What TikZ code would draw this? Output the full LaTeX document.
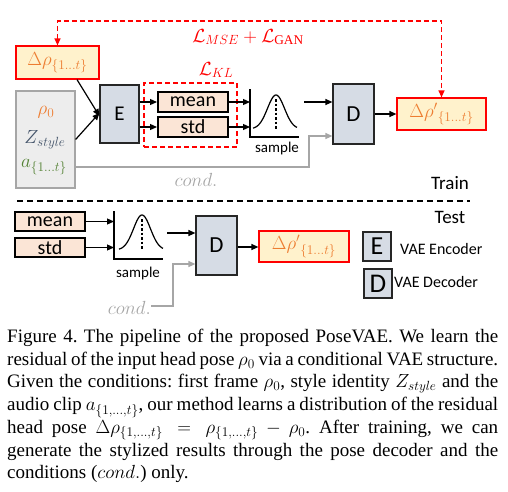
\RequirePackage{fix-cm}
\documentclass[tikz,border=0pt]{standalone}
\usepackage{fontspec}
\setmainfont{Liberation Serif}
\newfontfamily\carl{Carlito}
\usetikzlibrary{arrows.meta}
\definecolor{encfill}{HTML}{D6DCE5}
\definecolor{msfill}{HTML}{FBE5D6}
\definecolor{outfill}{HTML}{FFF2CC}
\definecolor{grayfill}{HTML}{EDEDED}
\definecolor{lgray}{HTML}{A6A6A6}
\definecolor{porange}{HTML}{ED7D31}
\definecolor{zblue}{HTML}{44546A}
\definecolor{agreen}{HTML}{548235}
\definecolor{lred}{HTML}{FF0000}
\newcommand\myrng{\{1{.}{.}{.}t\}}
\begin{document}
\begin{tikzpicture}[x=1pt,y=-1pt,
  encbox/.style={draw=black!85, fill=encfill, line width=1.2pt, inner sep=0pt, anchor=center, font=\carl\fontsize{21}{24}\selectfont},
  msbox/.style={draw=black, fill=msfill, line width=2pt, inner sep=0pt, minimum width=70pt, minimum height=20pt, anchor=center, font=\carl\fontsize{20}{22}\selectfont},
  outbox/.style={draw=lred, fill=outfill, line width=1.2pt, inner sep=0pt, anchor=center, text=porange, font=\fontsize{19}{22}\selectfont},
  arr/.style={-{Triangle[length=7pt,width=6pt]}, line width=1.2pt},
  garr/.style={arr, draw=lgray},
  sans/.style={font=\carl\fontsize{#1}{#1}\selectfont, inner sep=0pt},
  redlbl/.style={text=lred, inner sep=0pt, font=\fontsize{19}{22}\selectfont},
  condlbl/.style={text=lgray, inner sep=0pt, font=\fontsize{19}{22}\selectfont},
  axisline/.style={line width=1.2pt},
  bell/.style={line width=1.2pt},
  bellmid/.style={line width=1.2pt, dash pattern=on 2.5pt off 2pt}
]
\useasboundingbox (0,0) rectangle (508,491);

% ---------- Train ----------
\node[outbox, minimum width=83pt, minimum height=33pt] (dr) at (57.5,62.5) {$\Delta\rho_{\myrng}$};
\node[draw=lgray, fill=grayfill, line width=1.2pt, minimum width=59pt, minimum height=97pt, inner sep=0pt] (cond) at (45.5,139.5) {};
\node[inner sep=0pt, font=\fontsize{19}{22}\selectfont] (rho) at (46,112) {$\color{porange}\rho_0$};
\node[inner sep=0pt, font=\fontsize{19}{22}\selectfont] (zst) at (45,140) {$\color{zblue}Z_{style}$};
\node[inner sep=0pt, font=\fontsize{19}{22}\selectfont] (aud) at (44,167) {$\color{agreen}a_{\myrng}$};

\node[encbox, minimum width=39pt, minimum height=58pt] (E) at (119.5,114) {E};
\node[draw=lred, line width=1.2pt, dash pattern=on 5pt off 3pt, minimum width=93pt, minimum height=64pt, inner sep=0pt] (kl) at (190.5,115) {};
\node[redlbl] (kllbl) at (216,70) {$\mathcal{L}_{KL}$};
\node[msbox] (mean) at (193,102) {mean};
\node[msbox] (std) at (193,127) {std};

% sample plot (train)
\coordinate (sa) at (250,137);
\draw[axisline] (250,89) -- (sa) -- (299,137);
\draw[bell] plot[domain=-23:21, samples=60, smooth] ({276+\x},{129-34*exp(-(\x/8.5)^2/2)});
\draw[bellmid] (276,99) -- (276,129);
\node[sans=15] (samp) at (277,148) {sample};
\coordinate (so) at (304,102);

\node[encbox, minimum width=41pt, minimum height=60pt, font=\carl\fontsize{23}{26}\selectfont] (D) at (353.5,114) {D};
\node[outbox, minimum width=89pt, minimum height=32pt] (drp) at (441.5,114) {$\Delta{\rho'}_{\myrng}$};

\draw[arr] ([xshift=19.5pt]dr.south) -- ([yshift=-2pt]E.west);
\draw[arr] (cond.east) -- ([yshift=1pt]E.west);
\draw[arr] (E.east |- mean.west) -- (mean.west);
\draw[arr] (E.east |- std.west) -- (std.west);
\draw[arr] (mean.east) -- (sa |- mean.east);
\draw[arr] (std.east) -- (sa |- std.east);
\draw[arr] (so) -- (D.west |- so);
\draw[arr] (D.east) -- (drp.west);
\coordinate (gc) at (309,167);
\draw[garr] (cond.east |- gc) -- (gc) -- (309,136) -- (D.west |- 0,136);
\node[condlbl] (condt) at (196,180) {$cond.$};

\draw[lred, line width=1.2pt, dash pattern=on 5pt off 3pt, {Triangle[length=7pt,width=6pt]}-{Triangle[length=7pt,width=6pt]}]
  (dr.north) -- (57.5,21) -| (drp.north);
\node[redlbl] (loss) at (248,37) {$\mathcal{L}_{MSE}+\mathcal{L}_{\mathrm{GAN}}$};

\node[sans=19] (train) at (450,183) {Train};
\draw[line width=1.3pt, dash pattern=on 6pt off 4pt] (17,201) -- (470,201);
\node[sans=19] (test) at (450,217) {Test};

% ---------- Test ----------
\node[msbox, minimum height=19pt] (mean2) at (50,221.5) {mean};
\node[msbox, minimum height=19pt] (std2) at (50,247.5) {std};
\coordinate (sb) at (114,259);
\draw[axisline] (114,211) -- (sb) -- (163,259);
\draw[bell] plot[domain=-23:21, samples=60, smooth] ({142+\x},{250-35*exp(-(\x/8.5)^2/2)});
\draw[bellmid] (142,219) -- (142,250);
\node[sans=15] (samp2) at (138,273) {sample};
\coordinate (so2) at (167,233);

\node[encbox, minimum width=41pt, minimum height=59pt, font=\carl\fontsize{23}{26}\selectfont] (D2) at (216.5,245.5) {D};
\node[outbox, minimum width=90pt, minimum height=31pt] (drp2) at (304,246.5) {$\Delta{\rho'}_{\myrng}$};

\draw[arr] (mean2.east) -- (sb |- mean2.east);
\draw[arr] (std2.east) -- (sb |- std2.east);
\draw[arr] (so2) -- (D2.west |- so2);
\draw[arr] (D2.east |- 0,247) -- (drp2.west |- 0,247);
\node[condlbl, anchor=east] (condt2) at (151,308) {$cond.$};
\draw[garr] (condt2.east |- 0,306) -- (173,306) -- (173,264) -- (D2.west |- 0,264);

% legend
\node[encbox, minimum width=28pt, minimum height=29pt, font=\carl\fontsize{26}{28}\selectfont] (le) at (377,246.5) {E};
\node[sans=16, anchor=west] (let) at (400,249) {VAE Encoder};
\node[encbox, minimum width=28pt, minimum height=29pt, font=\carl\fontsize{27}{28}\selectfont] (ld) at (378,283.5) {D};
\node[sans=16, anchor=west] (ldt) at (394,282) {VAE Decoder};

% ---------- Caption ----------
\node[anchor=north west, inner sep=0pt, text width=491pt, align=justify, font=\fontsize{19}{22.7}\selectfont\frenchspacing] (cap) at (7,329)
{Figure 4. The pipeline of the proposed PoseVAE. We learn the\linebreak
residual of the input head pose $\rho_0$ via a conditional VAE structure.\linebreak
Given the conditions: first frame $\rho_0$, style identity $Z_{style}$ and the\linebreak
audio clip $a_{\{1,\ldots,t\}}$, our method learns a distribution of the residual\linebreak
head pose $\Delta\rho_{\{1,\ldots,t\}}=\rho_{\{1,\ldots,t\}}-\rho_0$. After training, we can\linebreak
generate the stylized results through the pose decoder and the\linebreak
conditions ($cond.$) only.};
\end{tikzpicture}
\end{document}
